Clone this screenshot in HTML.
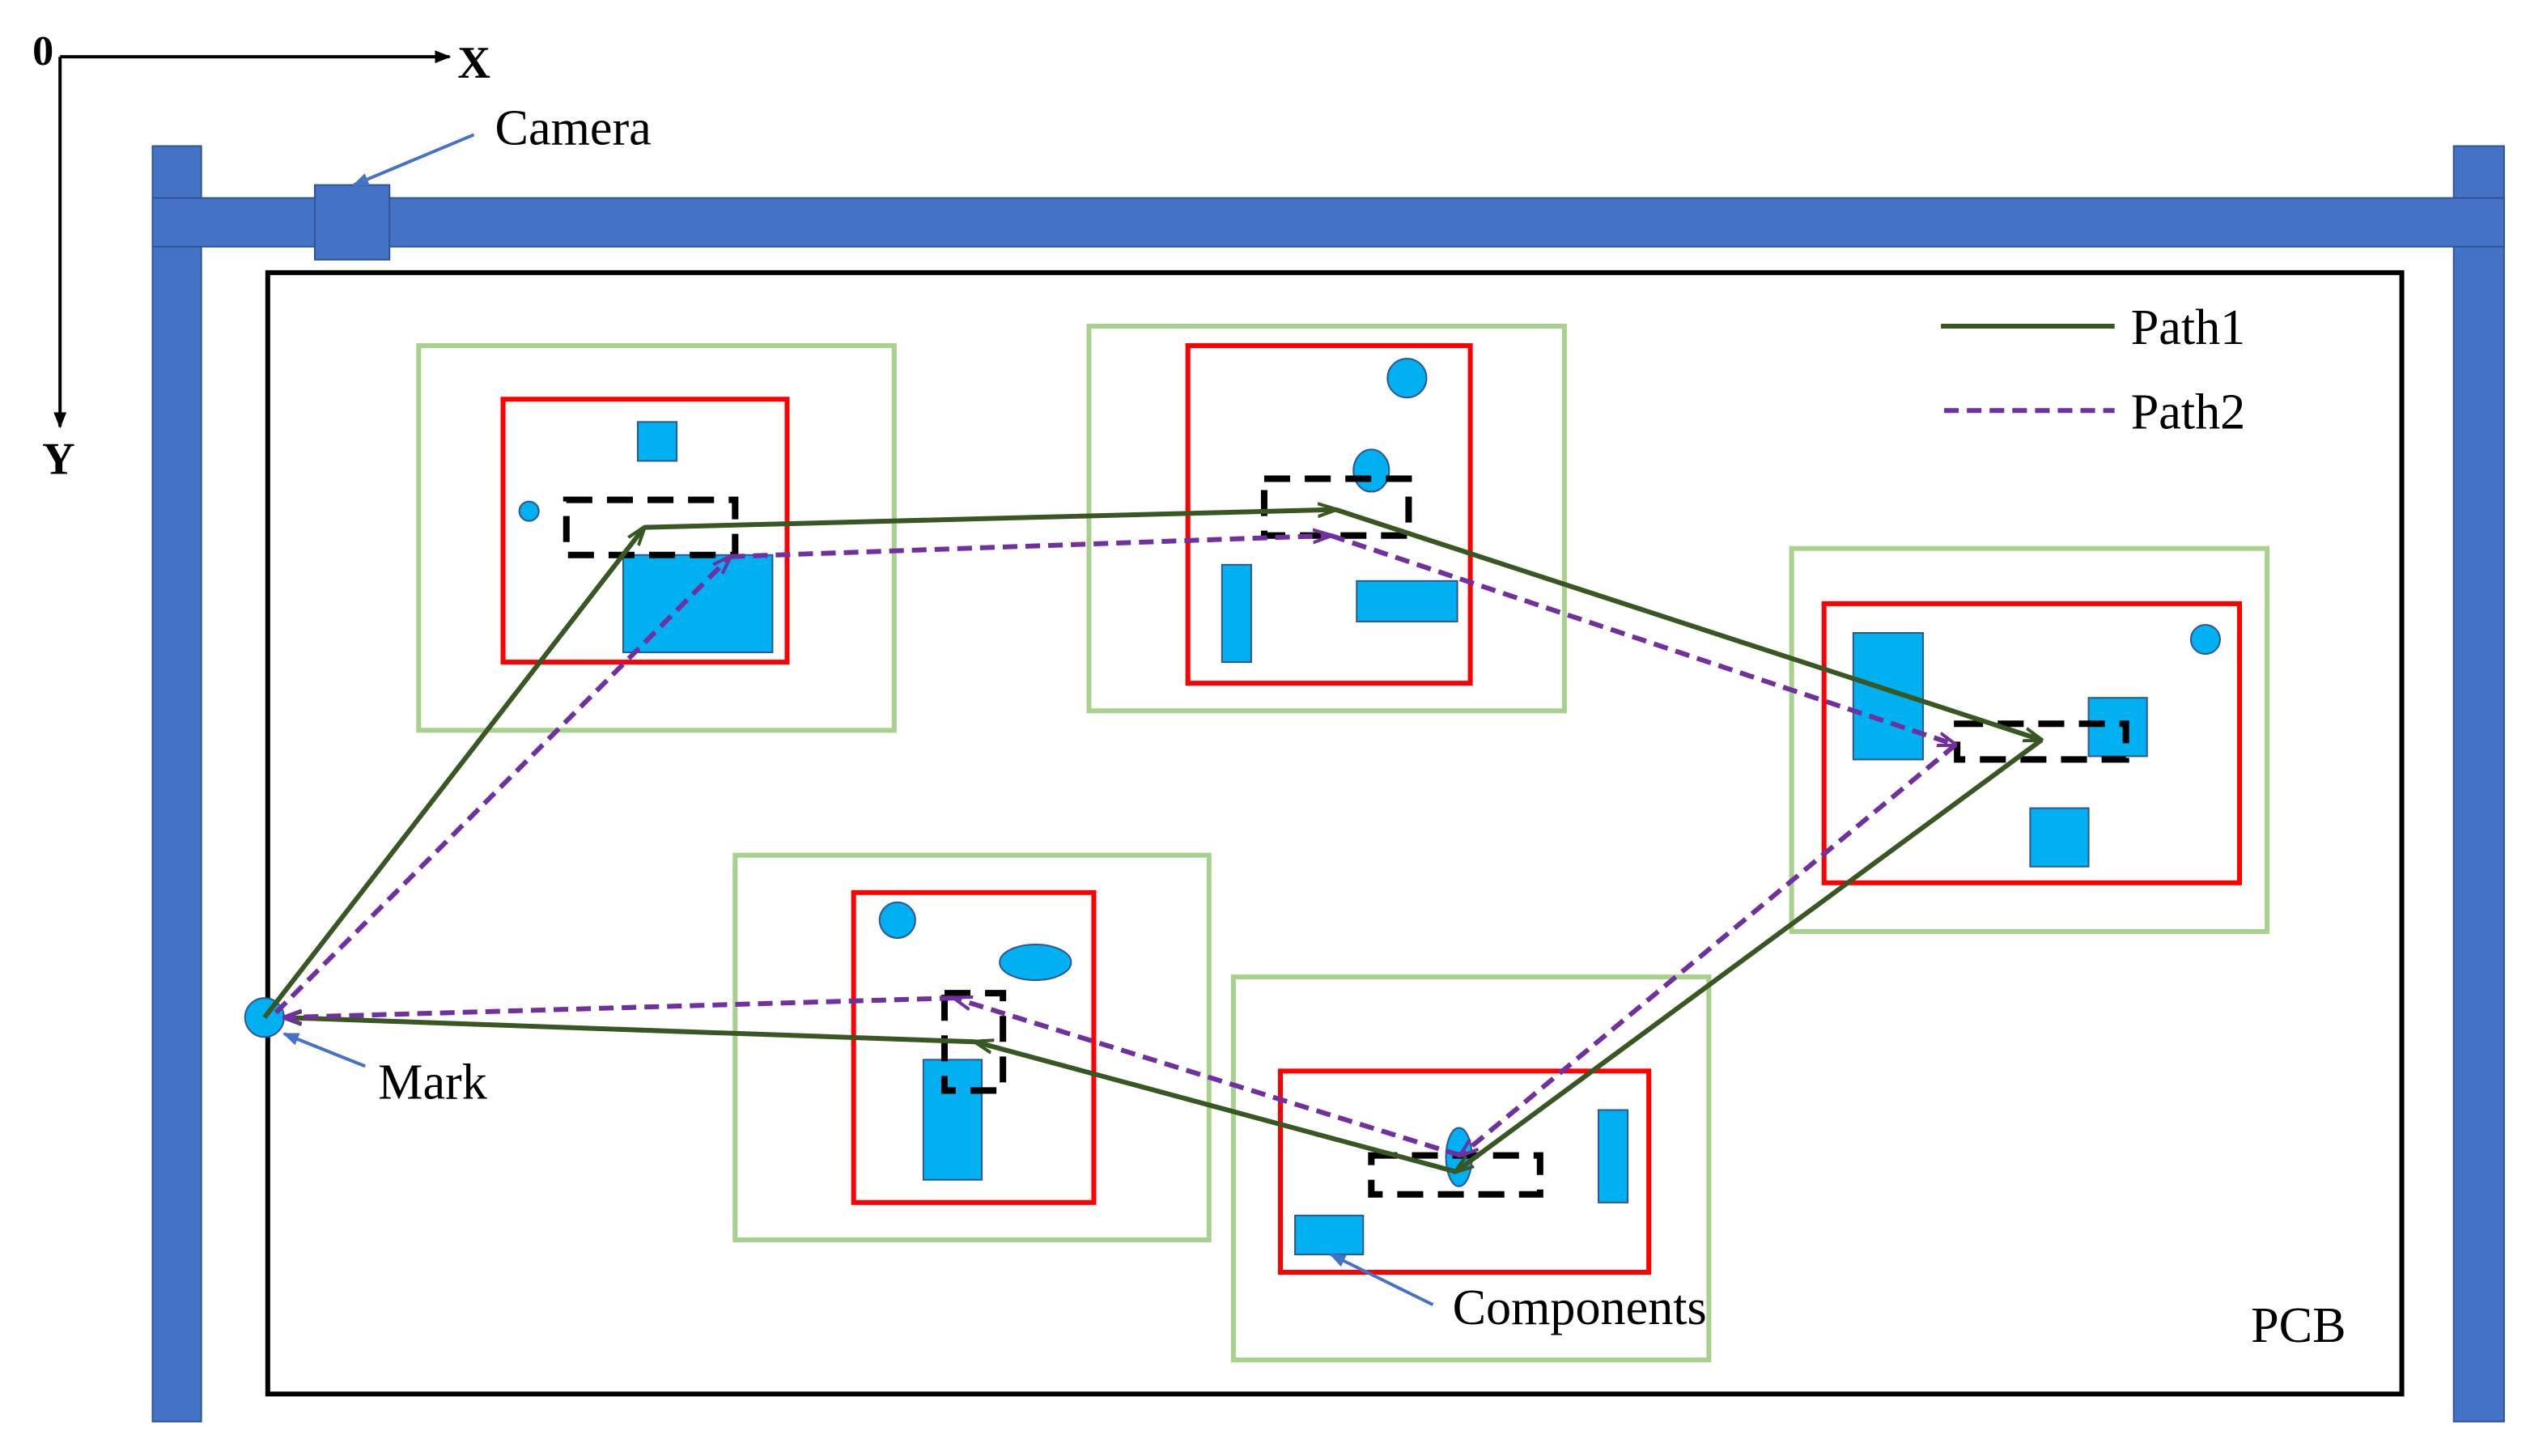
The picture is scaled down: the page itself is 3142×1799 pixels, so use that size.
<!DOCTYPE html>
<html><head><meta charset="utf-8"><style>html,body{margin:0;padding:0;background:#fff}svg{display:block}</style></head>
<body>
<svg width="3142" height="1799" viewBox="0 0 1567 897.2" preserveAspectRatio="none" xmlns="http://www.w3.org/2000/svg" font-family="Liberation Serif, serif">
<defs>
<marker id="ab" markerWidth="10" markerHeight="10" refX="9" refY="5" orient="auto" markerUnits="userSpaceOnUse"><path d="M0,1 L10,5 L0,9 Z" fill="#000"/></marker>
<marker id="ag" markerWidth="12" markerHeight="10" refX="11" refY="5" orient="auto" markerUnits="userSpaceOnUse"><path d="M0,1 L12,5 L0,9" fill="none" stroke="#385723" stroke-width="2"/></marker>
<marker id="ap" markerWidth="12" markerHeight="10" refX="11" refY="5" orient="auto" markerUnits="userSpaceOnUse"><path d="M0,1 L12,5 L0,9" fill="none" stroke="#7030a0" stroke-width="2"/></marker>
<marker id="abl" markerWidth="10" markerHeight="10" refX="9" refY="5" orient="auto" markerUnits="userSpaceOnUse"><path d="M0,1 L10,5 L0,9 Z" fill="#4472c4"/></marker>
</defs>
<line x1="37" y1="35" x2="277" y2="35" stroke="#000" stroke-width="2" marker-end="url(#ab)"/>
<line x1="37" y1="35" x2="37" y2="263" stroke="#000" stroke-width="2" marker-end="url(#ab)"/>
<text x="20" y="40" font-size="26" font-weight="bold">0</text>
<text x="282" y="48" font-size="28" font-weight="bold">X</text>
<text x="26" y="292" font-size="28" font-weight="bold">Y</text>
<rect x="94" y="90" width="30" height="786" fill="#4472c4" stroke="#2f5597" stroke-width="1"/>
<rect x="1512" y="90" width="31" height="786" fill="#4472c4" stroke="#2f5597" stroke-width="1"/>
<rect x="94" y="122" width="1449" height="30" fill="#4472c4" stroke="#2f5597" stroke-width="1"/>
<rect x="194" y="114" width="46" height="46" fill="#4472c4" stroke="#2f5597" stroke-width="1"/>
<line x1="292" y1="83" x2="218" y2="114" stroke="#4472c4" stroke-width="2" marker-end="url(#abl)"/>
<text x="305" y="89" font-size="31">Camera</text>
<rect x="165" y="168" width="1315" height="691" fill="none" stroke="#000" stroke-width="3"/>
<text x="1387" y="827" font-size="31">PCB</text>
<g fill="none" stroke="#a9d18e" stroke-width="3">
<rect x="258" y="213" width="293" height="237"/>
<rect x="671" y="201" width="293" height="237"/>
<rect x="1104" y="338" width="293" height="236"/>
<rect x="453" y="527" width="292" height="237"/>
<rect x="760" y="602" width="293" height="236"/>
</g>
<g fill="none" stroke="#ff0000" stroke-width="3">
<rect x="310" y="246" width="175" height="162"/>
<rect x="732" y="213" width="174" height="208"/>
<rect x="1124" y="372" width="256" height="172"/>
<rect x="526" y="550" width="148" height="191"/>
<rect x="789" y="660" width="227" height="124"/>
</g>
<g fill="#00b0f0" stroke="#2f5597" stroke-width="1">
<rect x="393" y="260" width="24" height="24"/>
<circle cx="326" cy="315" r="6"/>
<rect x="384" y="342" width="92" height="60"/>
<circle cx="867" cy="233" r="12"/>
<ellipse cx="845" cy="290" rx="11" ry="13"/>
<rect x="753" y="348" width="18" height="60"/>
<rect x="836" y="358" width="62" height="25"/>
<rect x="1142" y="390" width="43" height="78"/>
<circle cx="1359" cy="394" r="9"/>
<rect x="1287" y="430" width="36" height="36"/>
<rect x="1251" y="498" width="36" height="36"/>
<circle cx="553" cy="567" r="11"/>
<ellipse cx="638" cy="593" rx="22" ry="11"/>
<rect x="569" y="653" width="36" height="74"/>
<ellipse cx="899" cy="713" rx="8" ry="18"/>
<rect x="985" y="684" width="18" height="57"/>
<rect x="798" y="749" width="42" height="24"/>
<circle cx="163" cy="627" r="12"/>
</g>
<g fill="none" stroke="#000" stroke-width="4" stroke-dasharray="16 9">
<rect x="349" y="308" width="104" height="34"/>
<rect x="779" y="295" width="89" height="35"/>
<rect x="1206" y="446" width="104" height="22"/>
<rect x="582" y="612" width="36" height="60"/>
<rect x="845" y="712" width="104" height="24"/>
</g>
<g fill="none" stroke="#385723" stroke-width="3">
<line x1="163" y1="627" x2="397" y2="325" marker-end="url(#ag)"/>
<line x1="397" y1="325" x2="823" y2="314" marker-end="url(#ag)"/>
<line x1="823" y1="314" x2="1258" y2="456" marker-end="url(#ag)"/>
<line x1="1258" y1="456" x2="897" y2="722" marker-end="url(#ag)"/>
<line x1="897" y1="722" x2="601" y2="642" marker-end="url(#ag)"/>
<line x1="601" y1="642" x2="175" y2="627" marker-end="url(#ag)"/>
</g>
<g fill="none" stroke="#7030a0" stroke-width="3" stroke-dasharray="9 5">
<line x1="170" y1="624" x2="450" y2="343" marker-end="url(#ap)"/>
<line x1="450" y1="343" x2="820" y2="330" marker-end="url(#ap)"/>
<line x1="820" y1="330" x2="1205" y2="459" marker-end="url(#ap)"/>
<line x1="1205" y1="459" x2="900" y2="712" marker-end="url(#ap)"/>
<line x1="900" y1="712" x2="588" y2="615" marker-end="url(#ap)"/>
<line x1="588" y1="615" x2="175" y2="627" marker-end="url(#ap)"/>
</g>
<line x1="225" y1="657" x2="175" y2="637" stroke="#4472c4" stroke-width="2" marker-end="url(#abl)"/>
<text x="233" y="677" font-size="31">Mark</text>
<line x1="883" y1="804" x2="820" y2="773" stroke="#4472c4" stroke-width="2" marker-end="url(#abl)"/>
<text x="895" y="816" font-size="31">Components</text>
<line x1="1196" y1="201" x2="1303" y2="201" stroke="#385723" stroke-width="3"/>
<text x="1313" y="212" font-size="31">Path1</text>
<line x1="1198" y1="253" x2="1303" y2="253" stroke="#7030a0" stroke-width="3" stroke-dasharray="9 5"/>
<text x="1313" y="264" font-size="31">Path2</text>
</svg>
</body></html>
